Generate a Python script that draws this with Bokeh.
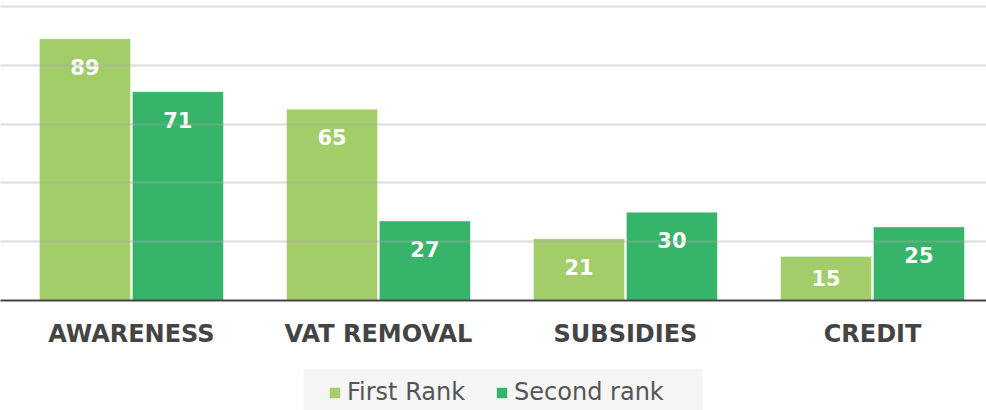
import numpy as np
from bokeh.plotting import figure
from bokeh.layouts import column
from bokeh.models import Range1d, FixedTicker, Legend, LegendItem, ColumnDataSource, BoxAnnotation
from bokeh.core.properties import value
from bokeh.embed import file_html
from bokeh.resources import INLINE

categories = ["AWARENESS", "VAT REMOVAL", "SUBSIDIES", "CREDIT"]
first_rank = [89, 65, 21, 15]
second_rank = [71, 27, 30, 25]
series_names = ["First Rank", "Second rank"]
colors = ["#a3cd69", "#36b469"]
grid_ticks = [20, 40, 60, 80, 100]

W = 986
H_MAIN = 366
H_LEG = 44
FRAME_H = 299.5
Y_END = 102.0
px_per_unit = FRAME_H / Y_END

p = figure(width=W, height=H_MAIN, output_backend="svg", toolbar_location=None,
           x_range=Range1d(-0.530, 3.4615), y_range=Range1d(0, Y_END),
           min_border_left=0, min_border_right=0, min_border_top=0,
           min_border_bottom=int(round(H_MAIN - FRAME_H)))
p.outline_line_color = None
p.background_fill_color = "white"
p.border_fill_color = "white"

idx = np.arange(len(categories))
off = 0.188
bw = 0.368

sources = []
for k, (vals, col) in enumerate(zip([first_rank, second_rank], colors)):
    xs = idx + (-off if k == 0 else off)
    src = ColumnDataSource(dict(x=xs, top=vals))
    sources.append(src)
    p.vbar(x="x", top="top", width=bw, source=src, fill_color=col,
           line_color="white", line_alpha=0.35, line_width=1)
    labels = [str(v) for v in vals]
    yoff = [min(28.0, v * px_per_unit / 2.0) for v in vals]
    lsrc = ColumnDataSource(dict(x=xs, y=vals, t=labels, yo=yoff))
    p.text(x="x", y="y", text="t", y_offset="yo", source=lsrc,
           text_color="white", text_font=value("DejaVu Sans"), text_font_style="bold",
           text_font_size="21px", text_align="center", text_baseline="middle")

p.ygrid.ticker = FixedTicker(ticks=grid_ticks)
p.ygrid.grid_line_color = "#a8a8a8"
p.ygrid.grid_line_alpha = 0.4
p.ygrid.grid_line_width = 2
p.ygrid.level = "annotation"
p.xgrid.visible = False
p.yaxis.visible = False

ax = p.xaxis[0]
ax.ticker = FixedTicker(ticks=list(idx))
ax.major_label_overrides = {int(i): c for i, c in zip(idx, categories)}
ax.axis_line_color = "#444444"
ax.axis_line_width = 2
ax.major_tick_line_color = None
ax.minor_tick_line_color = None
ax.major_label_text_font = "DejaVu Sans"
ax.major_label_text_font_style = "bold"
ax.major_label_text_font_size = "24px"
ax.major_label_text_color = "#444444"
ax.major_label_standoff = 13

# legend strip (its bar renderers share the data but lie outside this strip's y range)
q = figure(width=W, height=H_LEG, output_backend="svg", toolbar_location=None,
           x_range=Range1d(0, W), y_range=Range1d(1000, 1000 + H_LEG),
           min_border_left=0, min_border_right=0, min_border_top=0, min_border_bottom=0)
q.outline_line_color = None
q.axis.visible = False
q.grid.visible = False
q.add_layout(BoxAnnotation(left=303, right=702, bottom=1000, top=1042,
                           fill_color="#f5f5f5", fill_alpha=1.0, line_color=None))
leg_r = []
for src, col in zip(sources, colors):
    leg_r.append(q.vbar(x="x", top="top", width=0.5, source=src, fill_color=col, line_color=None))

legend = Legend(items=[LegendItem(label=n, renderers=[r]) for n, r in zip(series_names, leg_r)],
                orientation="horizontal", location=(328, 4))
legend.background_fill_alpha = 0.0
legend.border_line_color = None
legend.glyph_width = 13
legend.glyph_height = 13
legend.label_standoff = 6
legend.spacing = 30
legend.padding = 8
legend.margin = 0
legend.label_text_font = "DejaVu Sans"
legend.label_text_font_size = "24px"
legend.label_text_color = "#555555"
legend.label_height = 22
legend.label_text_baseline = "middle"
q.add_layout(legend, "center")

layout = column(p, q, spacing=0)
open("out.html", "w").write(file_html(layout, INLINE))
